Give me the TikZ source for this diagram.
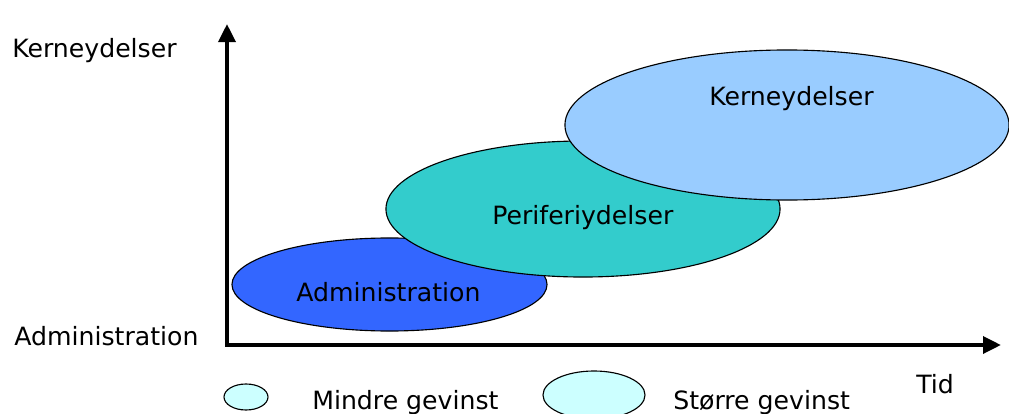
\documentclass[tikz,border=0pt]{standalone}
\usepackage{fontspec}
\setmainfont{DejaVu Sans}
\usepackage{xcolor}
\usetikzlibrary{shapes.geometric, arrows.meta, positioning}
\definecolor{adminblue}{RGB}{51,102,255}
\definecolor{perigreen}{RGB}{51,204,204}
\definecolor{kernelblue}{RGB}{153,204,255}
\definecolor{legendcyan}{RGB}{204,255,255}
\tikzset{
    area/.style={ellipse, draw, thick, inner sep=0pt},
    caption/.style={font=\fontsize{17.9}{20}\selectfont, anchor=base west, inner sep=0pt},
    axis/.style={line width=2.8pt, -{Triangle[length=0.45cm, width=0.42cm]}}
}

\begin{document}
\begin{tikzpicture}[x=0.025cm, y=-0.025cm]
    \useasboundingbox (0,0) rectangle (1009,414);
    % Areas
    \node[area, fill=adminblue, minimum width=7.875cm, minimum height=2.325cm] (admin) at (389.5,284.5) {};
    \node[area, fill=perigreen, minimum width=9.85cm, minimum height=3.4cm] (peri) at (583,209) {};
    \node[area, fill=kernelblue, minimum width=11.1cm, minimum height=3.75cm] (kerne) at (787,125) {};
    \node[caption] (admintext) at (296,301) {Administration};
    \node[caption] (peritext) at (492,224) {Periferiydelser};
    \node[caption] (kernetext) at (709,105) {Kerneydelser};

    % Axes
    \coordinate (origin) at (227,345);
    \coordinate (ytop) at (227,24);
    \coordinate (xend) at (1001,345);
    \draw[axis] (origin) -- (ytop);
    \draw[axis] ([xshift=-1.4pt]origin) -- (xend);
    \node[caption] (ylabel) at (12,57) {Kerneydelser};
    \node[caption] (ymin) at (14,345) {Administration};
    \node[caption] (xlabel) at (916,393) {Tid};

    % Legend
    \node[area, fill=legendcyan, minimum width=1.1cm, minimum height=0.65cm] (small) at (246,397) {};
    \node[caption] (smalltext) at (312,409) {Mindre gevinst};
    \node[area, fill=legendcyan, minimum width=2.55cm, minimum height=1.2cm] (big) at (594,395) {};
    \node[caption] (bigtext) at (673,409) {Større gevinst};
\end{tikzpicture}
\end{document}
